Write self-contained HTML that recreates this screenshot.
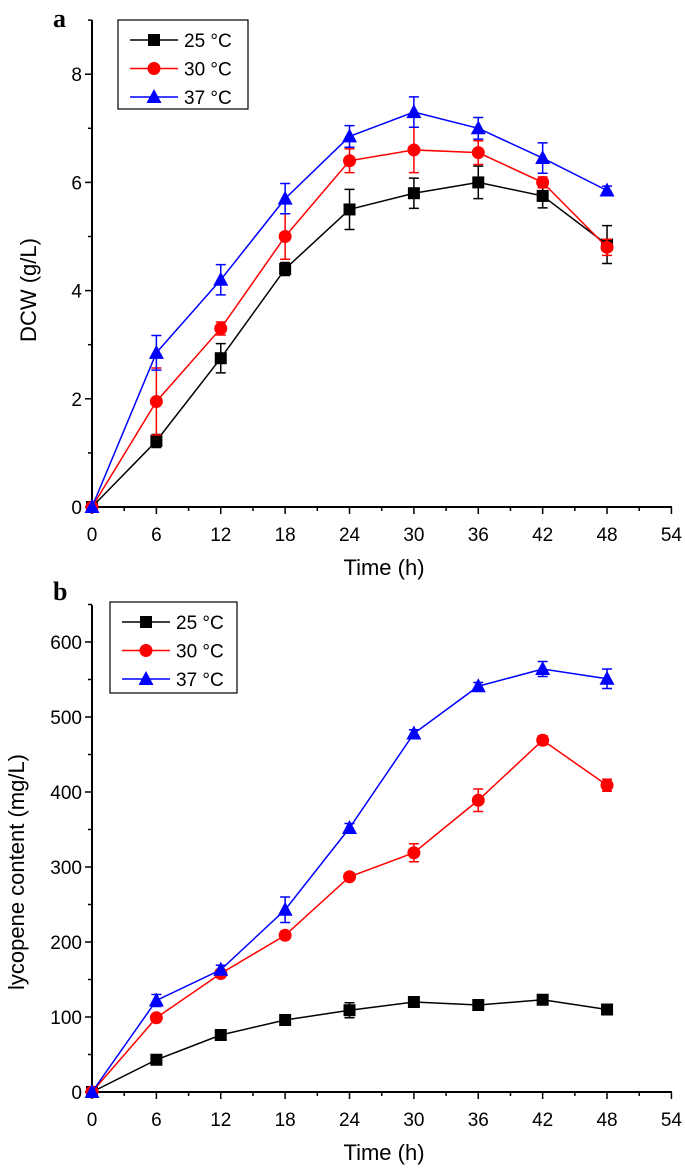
<!DOCTYPE html>
<html><head><meta charset="utf-8"><style>
body{margin:0;background:#fff}
svg{display:block;font-family:"Liberation Sans",sans-serif}
</style></head><body>
<svg id="c" width="685" height="1175"></svg>
<script>
const hours=[0,6,12,18,24,30,36,42,48];
const dcw25=[0,1.22,2.75,4.4,5.5,5.8,6.0,5.75,4.85];
const dcw30=[0,1.95,3.3,5.0,6.4,6.6,6.55,6.0,4.8];
const dcw37=[0,2.85,4.2,5.7,6.85,7.3,7.0,6.45,5.85];
const dcwErr25=[0,0.12,0.27,0.12,0.37,0.28,0.3,0.22,0.35];
const dcwErr30=[0,0.62,0.12,0.42,0.22,0.42,0.22,0.1,0.15];
const dcwErr37=[0,0.32,0.28,0.28,0.2,0.28,0.2,0.28,0.08];
const lyc25=[0,43,76,96,109,120,116,123,110];
const lyc30=[0,99,158,209,287,319,389,469,409];
const lyc37=[0,122,163,243,352,478,541,564,551];
const lycErr25=[0,4,4,6,10,5,5,5,5];
const lycErr30=[0,4,5,5,4,12,15,6,8];
const lycErr37=[0,8,6,17,6,5,5,10,13];
const xTicks=[0,6,12,18,24,30,36,42,48,54];
const dcwTicks=[0,2,4,6,8];
const lycTicks=[0,100,200,300,400,500,600];
const NS="http://www.w3.org/2000/svg";
const svg=document.getElementById('c');
function el(t,a,p){const e=document.createElementNS(NS,t);for(const k in a)e.setAttribute(k,a[k]);(p||svg).appendChild(e);return e;}
function panel(o){
  const g=el('g',{});
  
  
  const X=v=>92+v*10.73, Y=v=>o.y0-v*o.k;
  const ax=el('path',{d:`M92 ${o.top} V${o.y0} H672`,stroke:'#000','stroke-width':2,fill:'none'},g);
  
  
  for(let h=0;h<=54;h+=3){const big=h%6==0;el('line',{x1:X(h),x2:X(h),y1:o.y0,y2:o.y0+(big?7:4),stroke:'#000','stroke-width':1.5},g);}
  xTicks.forEach(t=>{const tx=el('text',{x:X(t),y:o.y0+34,'text-anchor':'middle','font-size':19},g);tx.textContent=t;
    
    });
  for(let v=0;v<=o.max;v+=o.minor){const big=Math.abs(v/o.major-Math.round(v/o.major))<1e-6;el('line',{x1:92,x2:92-(big?7:4),y1:Y(v),y2:Y(v),stroke:'#000','stroke-width':1.5},g);}
  o.ticks.forEach(t=>{const tx=el('text',{x:82,y:Y(t)+7,'text-anchor':'end','font-size':19},g);tx.textContent=t;
    
    });
  const xt=el('text',{x:384,y:o.y0+68,'text-anchor':'middle','font-size':22},g);xt.textContent='Time (h)';
  
  
  const yt=el('text',{x:0,y:0,transform:`translate(${o.ylx},${o.yly}) rotate(-90)`,'text-anchor':'middle','font-size':22},g);yt.textContent=o.ylabel;
  
  
  const pl=el('text',{x:53,y:o.letterY,'font-size':26,'font-weight':'bold','font-family':'Liberation Serif, serif'},g);pl.textContent=o.letter;
  
  
  const cols=['#000','#f00','#00f'];
  o.series.forEach((s,i)=>{
    const sg=el('g',{},g);
    
    
    el('polyline',{points:hours.map((h,j)=>X(h)+','+Y(s[j])).join(' '),fill:'none',stroke:cols[i],'stroke-width':1.5},sg);
    hours.forEach((h,j)=>{const e=o.errs[i][j];if(e>0){const x=X(h);el('path',{d:`M${x} ${Y(s[j]-e)}V${Y(s[j]+e)}M${x-5} ${Y(s[j]-e)}H${x+5}M${x-5} ${Y(s[j]+e)}H${x+5}`,stroke:cols[i],'stroke-width':1.5,fill:'none'},sg);}});
    hours.forEach((h,j)=>{const m=marker(i,X(h),Y(s[j]),sg);
      
      });
  });
  const L=o.leg;
  const lg=el('g',{},g);
  
  
  el('rect',{x:L.x,y:L.y,width:L.w,height:L.h,fill:'#fff',stroke:'#000','stroke-width':1.2},lg);
  o.labels.forEach((lb,i)=>{const ry=L.y+20+i*28.5;
    const eg=el('g',{},lg);
    
    
    el('line',{x1:L.x+12,x2:L.x+60,y1:ry,y2:ry,stroke:cols[i],'stroke-width':1.5},eg);
    marker(i,L.x+36,ry,eg);
    const t=el('text',{x:L.x+66,y:ry+7,'font-size':19},eg);t.textContent=lb;});
}
function marker(i,x,y,p){
  if(i==0)return el('rect',{x:x-6,y:y-6,width:12,height:12,fill:'#000'},p);
  if(i==1)return el('circle',{cx:x,cy:y,r:6.5,fill:'#f00'},p);
  return el('polygon',{points:`${x},${y-8} ${x-7.5},${y+6} ${x+7.5},${y+6}`,fill:'#00f'},p);
}
const labels=['25 °C','30 °C','37 °C'];
panel({name:'chart-a-dcw',y0:507,k:54.1,top:20,max:9,minor:1,major:2,ticks:dcwTicks,ylabel:'DCW (g/L)',ylx:36,yly:290,letter:'a',letterY:27,
  series:[dcw25,dcw30,dcw37],errs:[dcwErr25,dcwErr30,dcwErr37],labels,leg:{x:118,y:20,w:130,h:89}});
panel({name:'chart-b-lycopene',y0:1092,k:0.75,top:605,max:650,minor:50,major:100,ticks:lycTicks,ylabel:'lycopene content (mg/L)',ylx:24,yly:872,letter:'b',letterY:600,
  series:[lyc25,lyc30,lyc37],errs:[lycErr25,lycErr30,lycErr37],labels,leg:{x:110,y:602,w:127,h:91}});
</script>
</body></html>
